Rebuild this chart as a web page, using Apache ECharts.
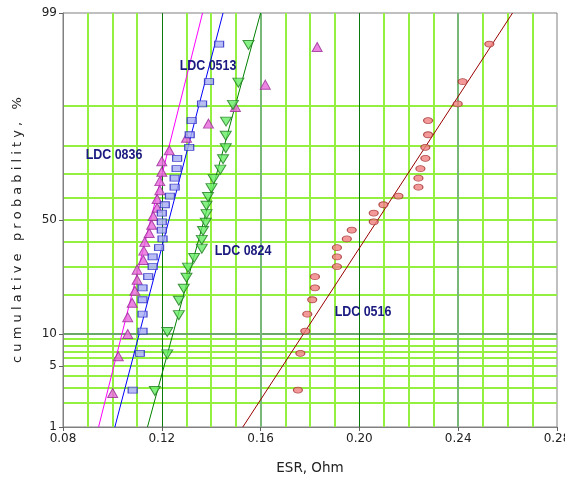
<!DOCTYPE html>
<html><head><meta charset="utf-8">
<script src="https://cdn.jsdelivr.net/npm/echarts@6/dist/echarts.min.js"></script>
<style>html,body{margin:0;padding:0;background:#fff}#c{width:565px;height:484px}</style>
</head><body><div id="c"></div>
<script>
// ---- data ----
const probPct = [2.8, 6.7, 10.6, 14.5, 18.5, 22.3, 26.2, 30.0, 33.9, 37.8, 41.6, 45.5, 49.2, 53.1, 56.8, 60.6, 64.4, 68.1, 71.8, 75.6, 79.3, 83.1, 86.8, 90.4, 94.0, 97.6];
const esr0836 = [0.1001, 0.1024, 0.1062, 0.1062, 0.1080, 0.1091, 0.1100, 0.1100, 0.1125, 0.1127, 0.1131, 0.1149, 0.1159, 0.1165, 0.1181, 0.1181, 0.1192, 0.1192, 0.1200, 0.1200, 0.1230, 0.1300, 0.1389, 0.1498, 0.1619, 0.1829];
const esr0513 = [0.1082, 0.1111, 0.1122, 0.1122, 0.1122, 0.1122, 0.1145, 0.1163, 0.1163, 0.1189, 0.1203, 0.1200, 0.1200, 0.1200, 0.1212, 0.1233, 0.1252, 0.1252, 0.1260, 0.1262, 0.1311, 0.1313, 0.1321, 0.1363, 0.1391, 0.1432];
const esr0824 = [0.1172, 0.1222, 0.1222, 0.1269, 0.1269, 0.1289, 0.1300, 0.1306, 0.1331, 0.1362, 0.1362, 0.1367, 0.1378, 0.1381, 0.1381, 0.1387, 0.1401, 0.1410, 0.1437, 0.1448, 0.1459, 0.1459, 0.1460, 0.1488, 0.1510, 0.1551];
const esr0516 = [0.1751, 0.1761, 0.1781, 0.1789, 0.1809, 0.1820, 0.1820, 0.1909, 0.1909, 0.1909, 0.1949, 0.1969, 0.2058, 0.2058, 0.2097, 0.2158, 0.2239, 0.2239, 0.2247, 0.2267, 0.2267, 0.2278, 0.2278, 0.2398, 0.2418, 0.2526];
// fitted lines: ESR at 1 % and at 99 %
const fitProb = [1, 99];
const fit0836 = [0.0944, 0.1365];
const fit0513 = [0.1010, 0.1448];
const fit0824 = [0.1142, 0.1600];
const fit0516 = [0.1528, 0.2620];
const seriesNames = ['LDC 0836', 'LDC 0513', 'LDC 0824', 'LDC 0516'];
const yTickLabels = [1, 5, 10, 50, 99];
const yGridPct = [2, 3, 4, 5, 6, 7, 8, 9, 20, 30, 40, 50, 60, 70, 80, 90];
const yGridDarkPct = [10];
const xGridDark = [0.12, 0.20];
const xGridGrey = [0.16, 0.24];

// ---- probability (normal quantile) scale ----
function probit(p) {
  const a=[-3.969683028665376e+01,2.209460984245205e+02,-2.759285104469687e+02,1.383577518672690e+02,-3.066479806614716e+01,2.506628277459239e+00];
  const b=[-5.447609879822406e+01,1.615858368580409e+02,-1.556989798598866e+02,6.680131188771972e+01,-1.328068155288572e+01];
  const c=[-7.784894002430293e-03,-3.223964580411365e-01,-2.400758277161838e+00,-2.549732539343734e+00,4.374664141464968e+00,2.938163982698783e+00];
  const d=[7.784695709041462e-03,3.224671290700398e-01,2.445134137142996e+00,3.754408661907416e+00];
  const pl=0.02425, ph=1-pl; let q, r;
  if (p < pl) { q=Math.sqrt(-2*Math.log(p)); return (((((c[0]*q+c[1])*q+c[2])*q+c[3])*q+c[4])*q+c[5])/((((d[0]*q+d[1])*q+d[2])*q+d[3])*q+1); }
  if (p <= ph) { q=p-0.5; r=q*q; return (((((a[0]*r+a[1])*r+a[2])*r+a[3])*r+a[4])*r+a[5])*q/(((((b[0]*r+b[1])*r+b[2])*r+b[3])*r+b[4])*r+1); }
  q=Math.sqrt(-2*Math.log(1-p)); return -(((((c[0]*q+c[1])*q+c[2])*q+c[3])*q+c[4])*q+c[5])/((((d[0]*q+d[1])*q+d[2])*q+d[3])*q+1);
}
const zp = pct => probit(pct / 100);
const pts = xs => xs.map((x, i) => [x, zp(probPct[i])]);
const fitPts = xs => xs.map((x, i) => [x, zp(fitProb[i])]);

const LFONT = "bold 15px 'Liberation Sans', Arial, sans-serif";
const TFONT = "'DejaVu Sans', sans-serif";
const yCustom = yTickLabels.map(zp);

const chart = echarts.init(document.getElementById('c'), null, {renderer: 'canvas'});
const lime = '#94f040';
const gridLines = yGridPct.map(p => ({yAxis: zp(p), lineStyle: {color: lime, width: 2, type: 'solid'}}))
  .concat(yGridDarkPct.map(p => ({yAxis: zp(p), lineStyle: {color: '#6aa86a', width: 2, type: 'solid'}})))
  .concat(xGridGrey.map(v => ({xAxis: v, lineStyle: {color: '#78b878', width: 2, type: 'solid'}})))
  .concat(xGridDark.map(v => ({xAxis: v, lineStyle: {color: '#0a7a0a', width: 1, type: 'solid'}})));
const lbl = (name, x, y) => ({type: 'text', x: x, y: y, scaleX: 0.83, z: 100,
  style: {text: name, font: LFONT, fill: '#1a1a80', align: 'center', verticalAlign: 'middle'}});

chart.setOption({
  animation: false,
  backgroundColor: '#ffffff',
  grid: {left: 63, right: 8, top: 13, bottom: 57, containLabel: false, outerBoundsMode: 'none',
         show: true, borderColor: '#808080', borderWidth: 1, backgroundColor: '#ffffff'},
  xAxis: {
    type: 'value', min: 0.08, max: 0.28, interval: 0.04,
    name: 'ESR, Ohm', nameLocation: 'middle', nameGap: 34,
    nameTextStyle: {fontFamily: TFONT, fontSize: 13.5, color: '#222'},
    axisLine: {show: true, onZero: false, lineStyle: {color: '#808080', width: 1}},
    axisTick: {show: true, length: 4, lineStyle: {color: '#606060'}},
    axisLabel: {fontFamily: TFONT, fontSize: 12, color: '#222', margin: 6, formatter: v => v.toFixed(2)},
    splitLine: {show: false},
    minorTick: {show: false, splitNumber: 4},
    minorSplitLine: {show: true, lineStyle: {color: lime, width: 2}}
  },
  yAxis: {
    type: 'value', min: zp(yTickLabels[0]), max: zp(yTickLabels[yTickLabels.length - 1]),
    axisLine: {show: true, onZero: false, lineStyle: {color: '#808080', width: 1}},
    axisTick: {show: true, length: 4, customValues: yCustom, lineStyle: {color: '#606060'}},
    axisLabel: {
      fontFamily: TFONT, fontSize: 12, color: '#222', margin: 6, customValues: yCustom,
      formatter: v => {
        let best = 0, bd = Infinity;
        yCustom.forEach((z, i) => { const dd = Math.abs(z - v); if (dd < bd) { bd = dd; best = i; } });
        return String(yTickLabels[best]);
      }
    },
    splitLine: {show: false}
  },
  graphic: [
    {type: 'text', x: 18, y: 230, rotation: Math.PI / 2, z: 100,
     style: {text: 'c u m u l a t i v e   p r o b a b i l i t y ,   %', font: '13px ' + TFONT, fill: '#222', align: 'center', verticalAlign: 'middle'}},
    lbl(seriesNames[0], 114, 155),
    lbl(seriesNames[1], 208, 66),
    lbl(seriesNames[2], 243, 251),
    lbl(seriesNames[3], 363, 312)
  ],
  series: [
    {type: 'scatter', data: [], silent: true, z: 0,
     markLine: {silent: true, z: 0, symbol: 'none', label: {show: false}, animation: false, data: gridLines}},
    {name: 'fit 0836', type: 'line', z: 3, data: fitPts(fit0836), symbol: 'none', lineStyle: {color: '#ff00ff', width: 1}, silent: true},
    {name: 'fit 0513', type: 'line', z: 3, data: fitPts(fit0513), symbol: 'none', lineStyle: {color: '#0000ff', width: 1}, silent: true},
    {name: 'fit 0824', type: 'line', z: 3, data: fitPts(fit0824), symbol: 'none', lineStyle: {color: '#008000', width: 1}, silent: true},
    {name: 'fit 0516', type: 'line', z: 3, data: fitPts(fit0516), symbol: 'none', lineStyle: {color: '#990000', width: 1}, silent: true},
    {name: seriesNames[0], type: 'scatter', z: 4, data: pts(esr0836), symbol: 'triangle', symbolSize: [10, 9], symbolOffset: [0, 3],
     itemStyle: {color: '#e866dc', borderColor: '#9a2c96', borderWidth: 1}},
    {name: seriesNames[1], type: 'scatter', z: 4, data: pts(esr0513), symbol: 'rect', symbolSize: [9, 6],
     itemStyle: {color: '#a6acf2', borderColor: '#2424c0', borderWidth: 1}},
    {name: seriesNames[2], type: 'scatter', z: 4, data: pts(esr0824), symbol: 'path://M0,0L10,0L5,9Z', symbolSize: [11, 9], symbolOffset: [0, 1],
     itemStyle: {color: '#66ee66', borderColor: '#1e7a1e', borderWidth: 1}},
    {name: seriesNames[3], type: 'scatter', z: 4, data: pts(esr0516), symbol: 'circle', symbolSize: [9, 6],
     itemStyle: {color: '#f08080', borderColor: '#a03030', borderWidth: 1}}
  ]
});
</script></body></html>
